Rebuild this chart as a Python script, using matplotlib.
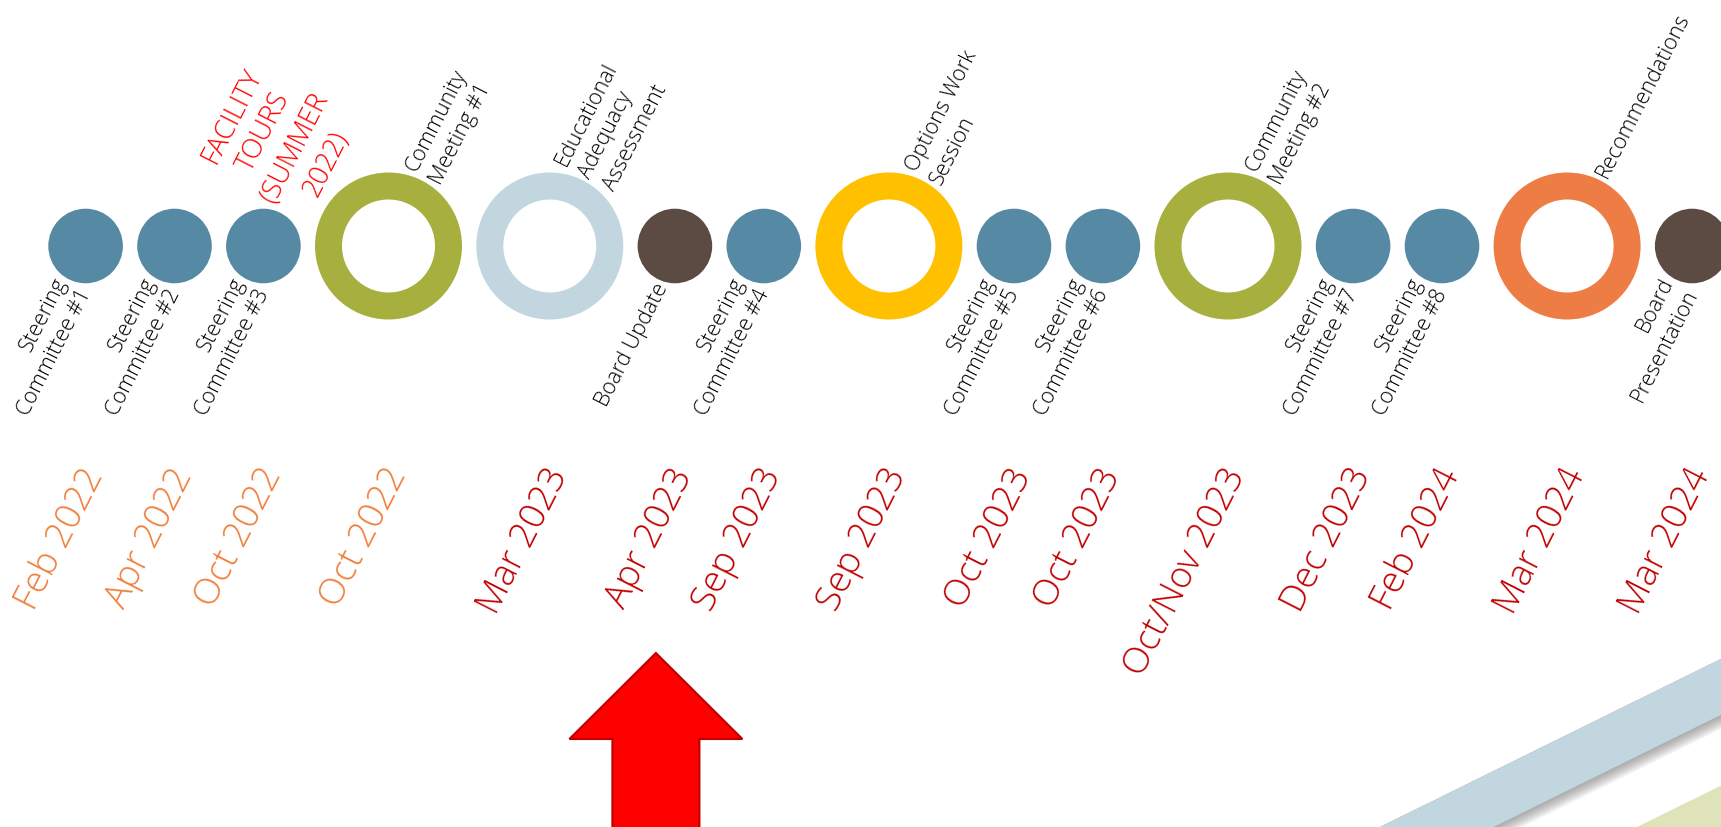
import numpy as np
import matplotlib
matplotlib.use("Agg")
from matplotlib import pyplot as plt
from matplotlib.patches import Circle, Wedge, FancyArrow, Polygon

plt.rcParams["font.family"] = ["Open Sans", "DejaVu Sans"]

# Timeline data
events = [
    "Steering\nCommittee #1", "Steering\nCommittee #2", "Steering\nCommittee #3",
    "Community\nMeeting #1", "Educational\nAdequacy\nAssessment", "Board Update",
    "Steering\nCommittee #4", "Options Work\nSession", "Steering\nCommittee #5",
    "Steering\nCommittee #6", "Community\nMeeting #2", "Steering\nCommittee #7",
    "Steering\nCommittee #8", "Recommendations", "Board\nPresentation",
]
kinds = ["meeting", "meeting", "meeting", "milestone", "milestone", "meeting",
         "meeting", "milestone", "meeting", "meeting", "milestone", "meeting",
         "meeting", "milestone", "meeting"]
dates = ["Feb 2022", "Apr 2022", "Oct 2022", "Oct 2022", "Mar 2023", "Apr 2023",
         "Sep 2023", "Sep 2023", "Oct 2023", "Oct 2023", "Oct/Nov 2023",
         "Dec 2023", "Feb 2024", "Mar 2024", "Mar 2024"]
note = "FACILITY\nTOURS\n(SUMMER\n2022)"
note_event = 2
current_event = 5

# Styles
event_colors = ["#5689A3", "#5689A3", "#5689A3", "#A7B03E", "#C2D6DF", "#5C4B43",
                "#5689A3", "#FFC000", "#5689A3", "#5689A3", "#A7B03E", "#5689A3",
                "#5689A3", "#EE7D45", "#5C4B43"]
r_small, r_big, ring_w, gap = 37.3, 73.5, 27, 14.3
y0 = 246
angle = 63
label_fs, date_fs, note_fs = 15.5, 26.5, 19.5
text_col = "#000000"

W, H = 1721, 827
fig = plt.figure(figsize=(W / 100, H / 100), dpi=100)
ax = fig.add_axes([0, 0, 1, 1])
ax.set_xlim(0, W)
ax.set_ylim(H, 0)
ax.axis("off")

# Decorative stripes in the lower-right corner
slope = 0.493
def band(x_bottom, thick):
    # x_bottom: where the upper edge meets the bottom border
    def y_at(x):
        return H - slope * (x - x_bottom)
    xl, xr = x_bottom - 40, W + 5
    return [(xl, y_at(xl)), (xr, y_at(xr)), (xr, y_at(xr) + thick), (xl, y_at(xl) + thick)]

# soft shadow under the blue stripe
for k in range(12):
    ax.add_patch(Polygon(band(1380, 56 + 1 + k * 1.2), closed=True,
                         facecolor="#606060", alpha=0.055, lw=0, zorder=1))
ax.add_patch(Polygon(band(1380, 56), closed=True, facecolor="#C2D6DF", lw=0, zorder=2))
ax.add_patch(Polygon(band(1637, 60), closed=True, facecolor="#DEE3BA", lw=0, zorder=2))

# Pack the circles side by side
radii = [r_big if k == "milestone" else r_small for k in kinds]
xs = [85.6]
for i in range(1, len(events)):
    xs.append(xs[-1] + radii[i - 1] + gap + radii[i])

d = np.array([np.cos(np.radians(angle)), -np.sin(np.radians(angle))])

for i, (x, r, kind, col, lab, dt) in enumerate(zip(xs, radii, kinds, event_colors, events, dates)):
    if kind == "milestone":
        ax.add_patch(Wedge((x, y0), r, 0, 360, width=ring_w, facecolor=col, lw=0, zorder=3))
        p = np.array([x, y0]) + d * (r + 4)
        ax.text(p[0], p[1], lab, rotation=angle, rotation_mode="anchor", ha="left", va="center",
                multialignment="left", fontsize=label_fs, color=text_col, fontweight="light",
                linespacing=1.4, zorder=4)
    else:
        ax.add_patch(Circle((x, y0), r, facecolor=col, lw=0, zorder=3))
        p = np.array([x, y0]) - d * (r + 4) + np.array([7, 2])
        ax.text(p[0], p[1], lab, rotation=angle, rotation_mode="anchor", ha="right", va="center",
                multialignment="right", fontsize=label_fs, color=text_col, fontweight="light",
                linespacing=1.4, zorder=4)
    dcol = "#F07F3C" if dt.endswith("2022") else "#C00000"
    ax.text(x - 7, 462, dt, rotation=angle, rotation_mode="anchor", ha="right", va="top",
            fontsize=date_fs, color=dcol, fontweight="light", zorder=4)

# Facility tours note
ax.text(xs[note_event] + 16, y0 - 106, note, rotation=angle, rotation_mode="anchor",
        ha="center", va="center", multialignment="center", fontsize=note_fs,
        color="#FF0000", fontweight="light", linespacing=1.35, zorder=4)

# "We are here" arrow
ax_x = xs[current_event] - 19
ax.add_patch(FancyArrow(ax_x, H + 10, 0, -(H + 10 - 653), width=87, head_width=173,
                        head_length=86, length_includes_head=True,
                        facecolor="#FF0000", edgecolor="#C00000", lw=1.5, zorder=5))

fig.savefig("out.png", dpi=100)
